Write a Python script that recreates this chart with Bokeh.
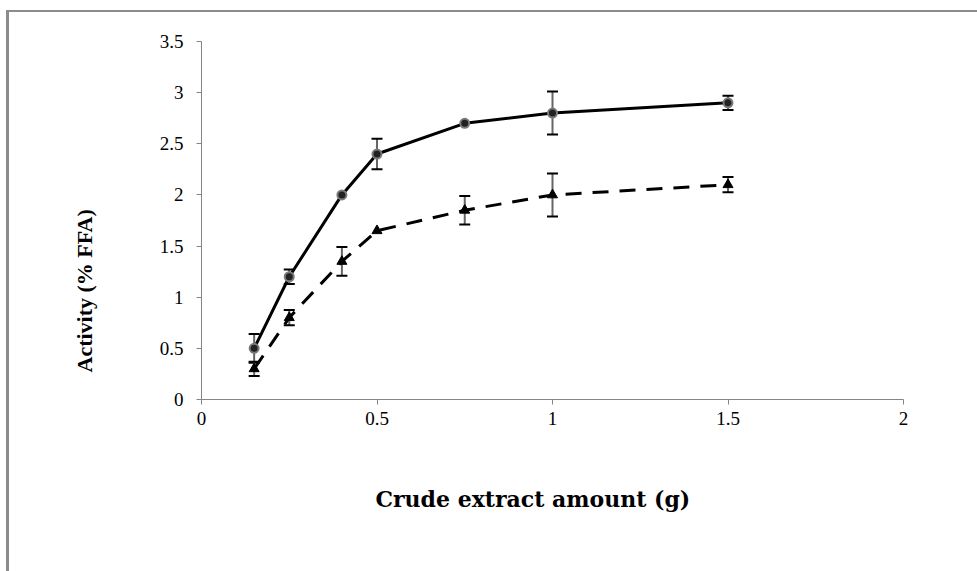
import math
from bokeh.plotting import figure
from bokeh.models import ColumnDataSource, Whisker, TeeHead, Title, FixedTicker
from bokeh.embed import file_html
from bokeh.resources import INLINE

# data
amount = [0.15, 0.25, 0.4, 0.5, 0.75, 1.0, 1.5]
activity_a = [0.5, 1.2, 2.0, 2.4, 2.7, 2.8, 2.9]
error_a = [0.14, 0.07, 0.0, 0.15, 0.0, 0.21, 0.07]
activity_b = [0.3, 0.8, 1.35, 1.65, 1.85, 2.0, 2.1]
error_b = [0.07, 0.075, 0.14, 0.0, 0.14, 0.21, 0.075]
x_ticks = [0, 0.5, 1, 1.5, 2]
y_ticks = [0, 0.5, 1, 1.5, 2, 2.5, 3, 3.5]
x_title = "Crude extract amount (g)"
y_title = "Activity (% FFA)"

FONT = "Times New Roman"

p = figure(
    width=968, height=559,
    frame_width=702, frame_height=358,
    min_border_left=192, min_border_right=74,
    min_border_top=29, min_border_bottom=172,
    x_range=(0, 2), y_range=(0, 3.5),
    output_backend="svg", toolbar_location=None,
)
p.styles = {"border-top": "2px solid #8c8c8c", "border-left": "3px solid #8c8c8c",
            "margin-left": "6px", "margin-top": "10px"}
p.outline_line_color = None
p.grid.visible = False
p.background_fill_color = "white"
p.border_fill_color = "white"

for ax in (p.xaxis[0], p.yaxis[0]):
    ax.axis_line_color = "#868686"
    ax.axis_line_width = 1
    ax.major_tick_line_color = "#868686"
    ax.major_tick_in = 0
    ax.major_tick_out = 5
    ax.minor_tick_line_color = None
    ax.major_label_text_font = FONT
    ax.major_label_text_font_size = "19px"
    ax.major_label_text_color = "#000000"
p.xaxis[0].ticker = FixedTicker(ticks=x_ticks)
p.yaxis[0].ticker = FixedTicker(ticks=y_ticks)
p.xaxis[0].major_label_standoff = 7
p.yaxis[0].major_label_standoff = 13
p.xaxis[0].major_label_overrides = {0: "0", 0.5: "0.5", 1: "1", 1.5: "1.5", 2: "2"}
p.yaxis[0].major_label_overrides = {0: "0", 0.5: "0.5", 1: "1", 1.5: "1.5", 2: "2",
                                   2.5: "2.5", 3: "3", 3.5: "3.5"}

# lines
p.line(amount, activity_b, line_color="black", line_width=3, line_dash="16 11")
p.line(amount, activity_a, line_color="black", line_width=3)

# error bars
def add_err(ys, errs):
    xs = [x for x, e in zip(amount, errs) if e > 0]
    yy = [y for y, e in zip(ys, errs) if e > 0]
    ee = [e for e in errs if e > 0]
    src = ColumnDataSource(dict(x=xs, up=[y + e for y, e in zip(yy, ee)],
                                lo=[y - e for y, e in zip(yy, ee)]))
    w = Whisker(source=src, base="x", upper="up", lower="lo", dimension="height",
                line_color="#666666", line_width=2,
                upper_head=TeeHead(size=11, line_color="black", line_width=2),
                lower_head=TeeHead(size=11, line_color="black", line_width=2))
    p.add_layout(w)

add_err(activity_a, error_a)
add_err(activity_b, error_b)

# markers
p.scatter(amount, activity_b, marker="triangle", size=10, fill_color="black", line_color="black")
p.scatter(amount, activity_a, marker="circle", size=9, fill_color="#222222",
          line_color="#7a7a7a", line_width=2)

# titles
p.add_layout(Title(text=x_title, align="left", offset=174, standoff=112,
                   text_font="DejaVu Serif", text_font_style="bold",
                   text_font_size="22px", text_color="black"), "below")
p.add_layout(Title(text=y_title, align="left", offset=27, standoff=120,
                   text_font=FONT, text_font_style="bold",
                   text_font_size="22px", text_color="black"), "left")

open("out.html", "w").write(file_html(p, INLINE))
